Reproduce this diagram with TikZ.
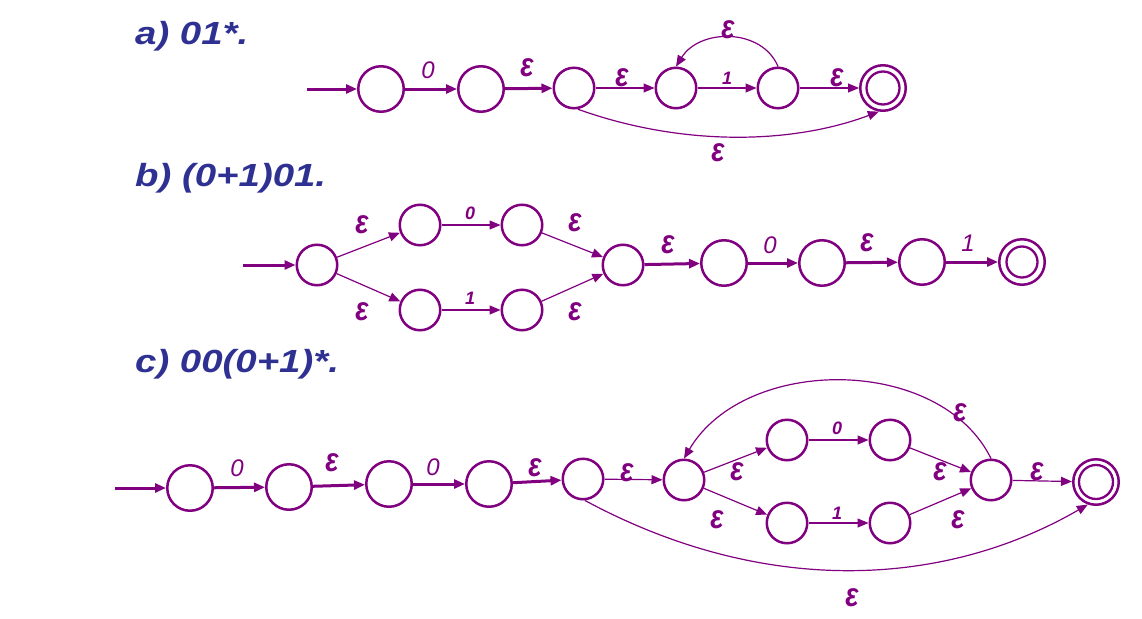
\documentclass[tikz,border=0pt]{standalone}
\usepackage{fontspec}
\setmainfont{Liberation Sans}
\usetikzlibrary{arrows.meta}
\definecolor{nfa}{RGB}{128,0,128}
\definecolor{ttl}{RGB}{46,49,146}
\newcommand\epsglyph{\scalebox{0.95}[1.15]{ε}}
\begin{document}
\begin{tikzpicture}[x=1pt,y=-1pt,
 st/.style={circle,draw=nfa,line width=2.5pt,minimum size=45.5pt,inner sep=0pt},
 sts/.style={circle,draw=nfa,line width=2.5pt,minimum size=40.5pt,inner sep=0pt},
 ring/.style={draw=nfa,line width=2.3pt},
 thk/.style={draw=nfa,line width=3pt,-{Triangle[length=11pt,width=9pt]}},
 thn/.style={draw=nfa,line width=1.2pt,-{Triangle[length=11pt,width=9pt]}},
 eps/.style={text=nfa,font=\fontsize{29}{29}\selectfont\bfseries\itshape,inner sep=0pt},
 dig/.style={text=nfa,font=\fontsize{24}{24}\selectfont\itshape,inner sep=0pt},
 digb/.style={text=nfa,font=\fontsize{18}{18}\selectfont\bfseries\itshape,inner sep=0pt},
 ttlst/.style={text=ttl,font=\fontsize{32}{32}\selectfont\bfseries\itshape,inner sep=0pt,anchor=base west},
]
\useasboundingbox (0,0) rectangle (1142,618);

% ---------- titles
\node[ttlst] (ta) at (135,45) {\scalebox{1.2}[1]{a) 01*.}};
\node[ttlst] (tb) at (135,186) {\scalebox{1.2}[1]{b) (0+1)01.}};
\node[ttlst] (tc) at (135,372) {\scalebox{1.2}[1]{c) 00(0+1)*.}};

% ---------- a)
\coordinate (as) at (307,89);
\node[st] (a1) at (381,89) {};
\node[st] (a2) at (481,89) {};
\node[sts] (a3) at (574,88) {};
\node[sts] (a4) at (676,88) {};
\node[sts] (a5) at (778,88) {};
\node[st] (af) at (883,88) {};
\draw[ring] (af.center) circle[radius=16.5pt];
\draw[thk] (as) -- (a1);
\draw[thk] (a1) -- (a2);
\draw[thk] (a2) -- (a3);
\draw[thn] (a3) -- (a4);
\draw[thn] (a4) -- (a5);
\draw[thn] (a5) -- (af);
\draw[thn] (a5.north) .. controls (762,28) and (700,28) .. (a4.north);
\draw[thn] (a3.-80) .. controls (680,146) and (790,145) .. (af.-100);
\node[dig] (la1) at (428,70) {0};
\node[eps] (la2) at (527,68) {\epsglyph};
\node[eps] (la3) at (622,78) {\epsglyph};
\node[digb] (la4) at (727,78) {1};
\node[eps] (la5) at (837,78) {\epsglyph};
\node[eps] (la6) at (728,30) {\epsglyph};
\node[eps] (la7) at (718,153) {\epsglyph};

% ---------- b)
\coordinate (bs) at (243,265);
\node[sts] (b0) at (317,265) {};
\node[sts] (bu1) at (420,225) {};
\node[sts] (bu2) at (522,225) {};
\node[sts] (bl1) at (420,310) {};
\node[sts] (bl2) at (522,310) {};
\node[sts] (bm) at (623,265) {};
\node[st] (b3) at (724,263) {};
\node[st] (b4) at (822,263) {};
\node[st] (b5) at (922,262) {};
\node[st] (bf) at (1022,262) {};
\draw[ring] (bf.center) circle[radius=15.5pt];
\draw[thk] (bs) -- (b0);
\draw[thn] (b0) -- (bu1);
\draw[thn] (b0) -- (bl1);
\draw[thn] (bu1) -- (bu2);
\draw[thn] (bl1) -- (bl2);
\draw[thn] (bu2) -- (bm);
\draw[thn] (bl2) -- (bm);
\draw[thk] (bm) -- (b3);
\draw[thk] (b3) -- (b4);
\draw[thk] (b4) -- (b5);
\draw[thk] (b5) -- (bf);
\node[eps] (lb1) at (362,225) {\epsglyph};
\node[eps] (lb2) at (362,312) {\epsglyph};
\node[digb] (lb3) at (470,213) {0};
\node[digb] (lb4) at (470,298) {1};
\node[eps] (lb5) at (575,223) {\epsglyph};
\node[eps] (lb6) at (575,312) {\epsglyph};
\node[eps] (lb7) at (668,245) {\epsglyph};
\node[dig] (lb8) at (770,245) {0};
\node[eps] (lb9) at (867,243) {\epsglyph};
\node[dig] (lb10) at (968,243) {1};

% ---------- c)
\coordinate (cs) at (115,488);
\node[st] (c1) at (190,488) {};
\node[st] (c2) at (289,487) {};
\node[st] (c3) at (389,484) {};
\node[st] (c4) at (489,484) {};
\node[sts] (c5) at (583,479) {};
\node[sts] (cA) at (684,480) {};
\node[sts] (cu1) at (787,440) {};
\node[sts] (cu2) at (890,440) {};
\node[sts] (cl1) at (787,523) {};
\node[sts] (cl2) at (890,523) {};
\node[sts] (cB) at (991,480) {};
\node[st] (cf) at (1096,482) {};
\draw[ring] (cf.center) circle[radius=17pt];
\draw[thk] (cs) -- (c1);
\draw[thk] (c1) -- (c2);
\draw[thk] (c2) -- (c3);
\draw[thk] (c3) -- (c4);
\draw[thk] (c4) -- (c5);
\draw[thn] (c5) -- (cA);
\draw[thn] (cA) -- (cu1);
\draw[thn] (cA) -- (cl1);
\draw[thn] (cu1) -- (cu2);
\draw[thn] (cl1) -- (cl2);
\draw[thn] (cu2) -- (cB);
\draw[thn] (cl2) -- (cB);
\draw[thn] (cB) -- (cf);
\draw[thn] (cB.north) .. controls (940,355) and (745,355) .. (cA.north);
\draw[thn] (c5.-85) .. controls (760,595) and (940,590) .. (cf.-110);
\node[dig] (lc1) at (237,468) {0};
\node[eps] (lc2) at (332,463) {\epsglyph};
\node[dig] (lc3) at (433,467) {0};
\node[eps] (lc4) at (535,468) {\epsglyph};
\node[eps] (lc5) at (627,473) {\epsglyph};
\node[eps] (lc6) at (737,472) {\epsglyph};
\node[eps] (lc7) at (717,520) {\epsglyph};
\node[digb] (lc8) at (837,428) {0};
\node[digb] (lc9) at (837,513) {1};
\node[eps] (lc10) at (940,472) {\epsglyph};
\node[eps] (lc11) at (958,520) {\epsglyph};
\node[eps] (lc12) at (1037,472) {\epsglyph};
\node[eps] (lc13) at (960,413) {\epsglyph};
\node[eps] (lc14) at (852,598) {\epsglyph};
\end{tikzpicture}
\end{document}
